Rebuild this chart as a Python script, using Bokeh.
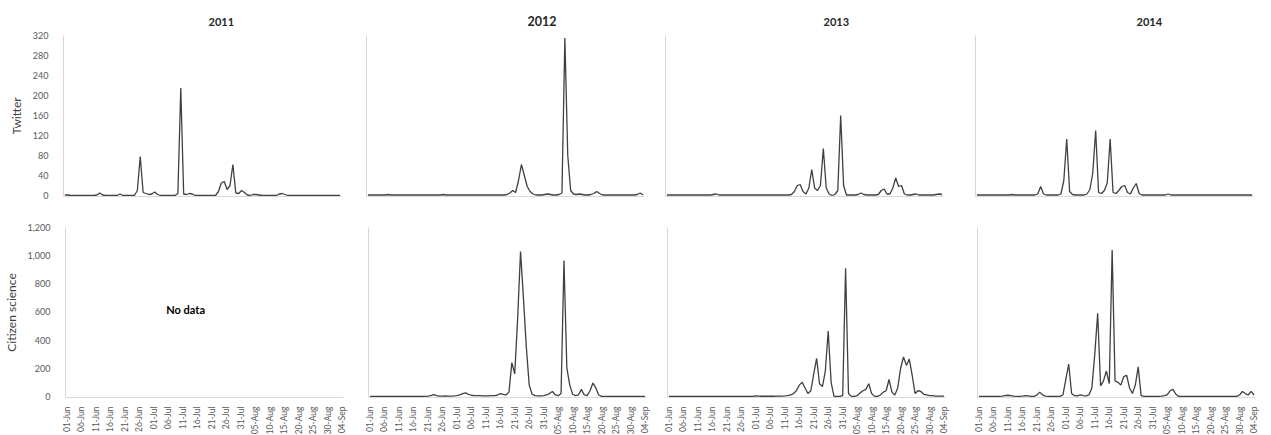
import math
from bokeh.plotting import figure
from bokeh.layouts import row, column
from bokeh.models import Range1d, FixedTicker, NumeralTickFormatter, Label
from bokeh.embed import file_html
from bokeh.resources import INLINE

FONT = "Lato"

# ---------------- data ----------------
years = ["2011", "2012", "2013", "2014"]
row_names = ["Twitter", "Citizen science"]
tick_days = [0, 5, 10, 15, 20, 25, 30, 35, 40, 45, 50, 55, 60, 65, 70, 75, 80, 85, 90, 95]
tick_labels = ["01-Jun", "06-Jun", "11-Jun", "16-Jun", "21-Jun", "26-Jun", "01-Jul", "06-Jul",
               "11-Jul", "16-Jul", "21-Jul", "26-Jul", "31-Jul", "05-Aug", "10-Aug", "15-Aug",
               "20-Aug", "25-Aug", "30-Aug", "04-Sep"]
twitter_ticks = [0, 40, 80, 120, 160, 200, 240, 280, 320]
cs_ticks = [0, 200, 400, 600, 800, 1000, 1200]
days = list(range(96))  # 0 = 01-Jun ... 95 = 04-Sep

twitter_2011 = [1, 1, 0, 0, 0, 0, 0, 0, 0, 0,
                0, 1, 5, 1, 0, 0, 0, 0, 0, 3,
                0, 0, 0, 0, 0, 10, 78, 6, 4, 2,
                3, 7, 2, 0, 0, 0, 0, 0, 0, 4,
                215, 3, 2, 4, 3, 0, 0, 0, 0, 0,
                0, 0, 0, 8, 25, 28, 12, 20, 62, 5,
                4, 10, 6, 1, 0, 2, 2, 1, 0, 0,
                0, 0, 0, 0, 3, 4, 2, 0, 0, 0,
                0, 0, 0, 0, 0, 0, 0, 0, 0, 0,
                0, 0, 0, 0, 0, 0]
twitter_2012 = [1, 1, 1, 1, 1, 1, 1, 2, 1, 1,
                1, 1, 1, 1, 1, 1, 1, 1, 1, 1,
                1, 1, 1, 1, 1, 1, 2, 1, 1, 1,
                1, 1, 1, 1, 1, 1, 1, 1, 1, 1,
                1, 1, 1, 1, 1, 1, 1, 1, 2, 5,
                10, 6, 30, 62, 40, 18, 8, 3, 1, 1,
                1, 2, 3, 2, 1, 1, 2, 5, 315, 80,
                10, 3, 2, 3, 2, 1, 1, 2, 4, 8,
                4, 1, 1, 1, 1, 1, 1, 1, 1, 1,
                1, 1, 1, 2, 5, 1]
twitter_2013 = [1, 1, 1, 1, 1, 1, 1, 1, 1, 1,
                1, 1, 1, 1, 1, 1, 2, 3, 1, 1,
                1, 1, 1, 1, 1, 1, 1, 1, 1, 1,
                1, 1, 1, 1, 1, 1, 1, 1, 1, 1,
                1, 1, 1, 2, 8, 20, 22, 8, 3, 15,
                52, 15, 10, 20, 94, 15, 3, 0, 2, 10,
                160, 20, 1, 1, 1, 1, 2, 5, 2, 1,
                1, 1, 1, 2, 10, 13, 3, 3, 15, 35,
                18, 20, 3, 1, 1, 2, 3, 1, 1, 1,
                1, 1, 1, 2, 3, 2]
twitter_2014 = [1, 1, 1, 1, 1, 1, 1, 1, 1, 1,
                1, 1, 2, 1, 1, 1, 1, 1, 1, 1,
                1, 3, 18, 3, 1, 1, 1, 1, 1, 3,
                30, 113, 8, 2, 1, 1, 1, 1, 3, 12,
                45, 130, 6, 4, 10, 25, 113, 6, 4, 10,
                18, 20, 6, 3, 15, 24, 4, 1, 1, 1,
                1, 1, 1, 1, 1, 1, 3, 1, 1, 1,
                1, 1, 1, 1, 1, 1, 1, 1, 1, 1,
                1, 1, 1, 1, 1, 1, 1, 1, 1, 1,
                1, 1, 1, 1, 1, 1]
cs_2012 = [0, 0, 0, 0, 0, 0, 0, 0, 0, 0,
           0, 0, 0, 0, 0, 0, 0, 0, 0, 0,
           2, 5, 12, 5, 2, 2, 3, 2, 2, 3,
           5, 10, 20, 25, 15, 8, 5, 6, 5, 3,
           3, 4, 5, 6, 8, 20, 15, 10, 30, 240,
           160, 550, 1030, 700, 350, 80, 15, 5, 3, 3,
           5, 10, 20, 35, 10, 5, 20, 965, 200, 80,
           15, 5, 10, 50, 10, 5, 40, 95, 60, 10,
           0, 0, 0, 0, 0, 0, 0, 0, 0, 0,
           0, 0, 0, 0, 0, 0]
cs_2013 = [0, 0, 0, 0, 0, 0, 0, 0, 0, 0,
           0, 0, 0, 0, 0, 0, 0, 0, 0, 0,
           0, 0, 0, 0, 0, 0, 0, 0, 0, 0,
           4, 2, 1, 1, 1, 1, 1, 2, 2, 2,
           3, 5, 10, 20, 40, 80, 100, 60, 20, 40,
           160, 270, 90, 70, 180, 465, 100, 0, 0, 0,
           5, 910, 20, 0, 0, 5, 25, 40, 50, 90,
           20, 0, 0, 10, 30, 40, 120, 30, 10, 60,
           200, 280, 220, 265, 150, 20, 40, 35, 15, 10,
           5, 5, 2, 2, 2, 2]
cs_2014 = [0, 0, 0, 0, 0, 0, 0, 0, 2, 5,
           8, 5, 2, 0, 0, 2, 5, 3, 0, 0,
           10, 30, 10, 2, 0, 0, 0, 0, 0, 10,
           120, 230, 20, 5, 3, 10, 5, 3, 10, 60,
           300, 590, 75, 110, 180, 90, 1040, 110, 100, 80,
           140, 150, 60, 20, 80, 210, 5, 0, 0, 0,
           0, 0, 0, 2, 5, 10, 40, 50, 15, 0,
           0, 0, 0, 0, 0, 0, 0, 0, 0, 0,
           0, 0, 0, 0, 0, 0, 0, 0, 0, 0,
           10, 35, 20, 10, 35, 10]

twitter_series = [twitter_2011, twitter_2012, twitter_2013, twitter_2014]
cs_series = [None, cs_2012, cs_2013, cs_2014]
no_data_text = "No data"

# ---------------- layout settings ----------------
left_borders = [63, 15, 13, 14]
right_borders = [10, 8, 18, 4]
title_offsets = [145, 161, 158, 161]
title_sizes = ["11px", "12.5px", "11px", "11px"]
LINE = "#404040"
AXIS = "#d9d9d9"
TICKTXT = "#595959"


def style_common(p):
    p.outline_line_color = None
    p.xgrid.visible = False
    p.ygrid.visible = False
    for ax in (p.xaxis[0], p.yaxis[0]):
        ax.axis_line_color = AXIS
        ax.major_tick_line_color = None
        ax.minor_tick_line_color = None


def style_y(ax, ticks, name):
    ax.formatter = NumeralTickFormatter(format="0,0")
    if name is None:
        ax.ticker = FixedTicker(ticks=[])
        ax.major_label_standoff = 0
        return
    ax.ticker = FixedTicker(ticks=ticks)
    ax.major_label_text_font = FONT
    ax.major_label_text_font_size = "9px"
    ax.major_label_text_color = TICKTXT
    ax.major_label_standoff = 9
    ax.axis_label = name
    ax.axis_label_text_font = FONT
    ax.axis_label_text_font_size = "12px"
    ax.axis_label_text_font_style = "normal"
    ax.axis_label_text_color = "#404040"
    ax.axis_label_standoff = 6


figs_top = []
figs_bot = []
for i, yr in enumerate(years):
    # ---- Twitter row ----
    p = figure(frame_width=278, frame_height=161,
               x_range=Range1d(-0.5, 95.5), y_range=Range1d(-2, 320),
               min_border_left=left_borders[i], min_border_right=right_borders[i],
               min_border_top=35, min_border_bottom=21,
               output_backend="svg", toolbar_location=None, title=yr)
    style_common(p)
    p.title.align = "left"
    p.title.offset = title_offsets[i]
    p.title.standoff = 20
    p.title.text_font = FONT
    p.title.text_font_size = title_sizes[i]
    p.title.text_font_style = "bold"
    p.title.text_color = "#262626"
    p.xaxis.ticker = FixedTicker(ticks=[])
    p.xaxis.major_label_standoff = 0
    style_y(p.yaxis[0], twitter_ticks, row_names[0] if i == 0 else None)
    p.line(days, twitter_series[i], line_color=LINE, line_width=1.3)
    figs_top.append(p)

    # ---- Citizen science row ----
    q = figure(frame_width=278, frame_height=170,
               x_range=Range1d(-0.5, 95.5), y_range=Range1d(-8, 1200),
               min_border_left=left_borders[i], min_border_right=right_borders[i],
               min_border_top=10, min_border_bottom=0,
               output_backend="svg", toolbar_location=None)
    style_common(q)
    q.xaxis.ticker = FixedTicker(ticks=tick_days)
    q.xaxis.major_label_overrides = {d: l for d, l in zip(tick_days, tick_labels)}
    q.xaxis.major_label_orientation = math.pi / 2
    q.xaxis.major_label_text_font = FONT
    q.xaxis.major_label_text_font_size = "8.5px"
    q.xaxis.major_label_text_color = TICKTXT
    q.xaxis.major_label_standoff = 3
    style_y(q.yaxis[0], cs_ticks, row_names[1] if i == 0 else None)
    if cs_series[i] is None:
        q.add_layout(Label(x=41, y=620, text=no_data_text, text_align="center",
                           text_baseline="middle", text_font=FONT,
                           text_font_size="11px", text_font_style="bold",
                           text_color="#000000"))
    else:
        q.line(days, cs_series[i], line_color=LINE, line_width=1.3)
    figs_bot.append(q)

layout = column(row(*figs_top), row(*figs_bot))
open("out.html", "w").write(file_html(layout, INLINE))
